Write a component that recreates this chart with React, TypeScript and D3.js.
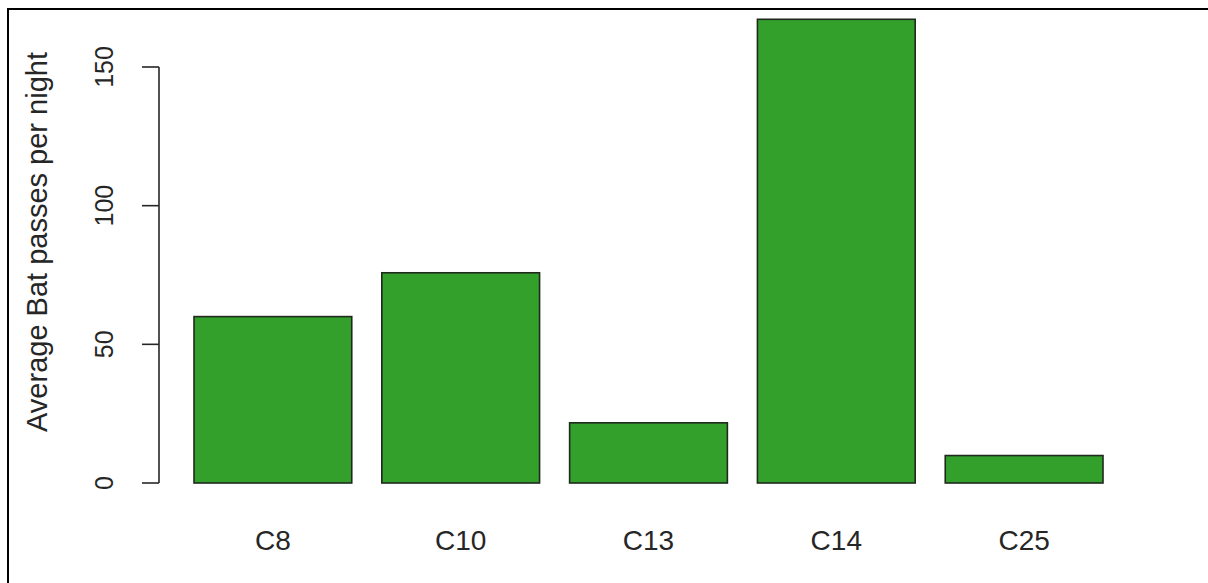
import * as d3 from "d3";
import { useEffect, useRef } from "react";

// values
const sites = ["C8", "C10", "C13", "C14", "C25"];
const avgPasses = [60, 75.8, 21.7, 167.2, 9.9];
const yTicks = [0, 50, 100, 150];
const yLabel = "Average Bat passes per night";

const W = 1208;
const H = 583;

function BatBarchart() {
    const ref = useRef<SVGSVGElement>(null);

    useEffect(() => {
        const svg = d3.select(ref.current);
        svg.selectAll("*").remove();

        const font = "'Liberation Sans', Arial, sans-serif";
        const ink = "#262626";

        // frame around the picture (right / bottom fall outside)
        svg.append("rect")
            .attr("x", 8).attr("y", 9)
            .attr("width", W + 40).attr("height", H + 40)
            .attr("fill", "none")
            .attr("stroke", "#000")
            .attr("stroke-width", 2);

        const x = d3.scaleBand()
            .domain(sites)
            .range([194, 1103])
            .paddingInner(0.16)
            .paddingOuter(0);

        const y = d3.scaleLinear()
            .domain([0, 150])
            .range([483, 67]);

        const data = sites.map((s, i) => ({ site: s, value: avgPasses[i] }));

        // bars
        svg.selectAll(".bar")
            .data(data)
            .enter()
            .append("rect")
            .attr("class", "bar")
            .attr("x", d => x(d.site)!)
            .attr("y", d => y(d.value))
            .attr("width", x.bandwidth())
            .attr("height", d => y(0) - y(d.value))
            .attr("fill", "#33a02c")
            .attr("stroke", "#1f2a1d")
            .attr("stroke-width", 1.6);

        // y axis, R style: line only from first to last tick
        const axisX = 159;
        svg.append("line")
            .attr("x1", axisX).attr("x2", axisX)
            .attr("y1", y(yTicks[0])).attr("y2", y(yTicks[yTicks.length - 1]))
            .attr("stroke", ink).attr("stroke-width", 1.6);

        const ticks = svg.selectAll(".ytick")
            .data(yTicks)
            .enter()
            .append("g")
            .attr("class", "ytick");

        ticks.append("line")
            .attr("x1", axisX - 17).attr("x2", axisX)
            .attr("y1", d => y(d)).attr("y2", d => y(d))
            .attr("stroke", ink).attr("stroke-width", 1.6);

        ticks.append("text")
            .attr("transform", d => `translate(104,${y(d)}) rotate(-90)`)
            .attr("dy", "0.36em")
            .attr("text-anchor", "middle")
            .attr("font-family", font)
            .attr("font-size", 25)
            .attr("fill", ink)
            .text(d => String(d));

        // category labels
        svg.selectAll(".xlab")
            .data(sites)
            .enter()
            .append("text")
            .attr("class", "xlab")
            .attr("x", d => x(d)! + x.bandwidth() / 2)
            .attr("y", 550)
            .attr("text-anchor", "middle")
            .attr("font-family", font)
            .attr("font-size", 28)
            .attr("fill", ink)
            .text(d => d);

        // axis title
        svg.append("text")
            .attr("transform", `translate(37,242) rotate(-90)`)
            .attr("dy", "0.36em")
            .attr("text-anchor", "middle")
            .attr("font-family", font)
            .attr("font-size", 29)
            .attr("fill", ink)
            .text(yLabel);
    }, []);

    return <svg ref={ref} width={W} height={H} style={{ position: "absolute", left: 0, top: 0, background: "#fff" }} />;
}

export default function App() {
    return <BatBarchart />;
}
